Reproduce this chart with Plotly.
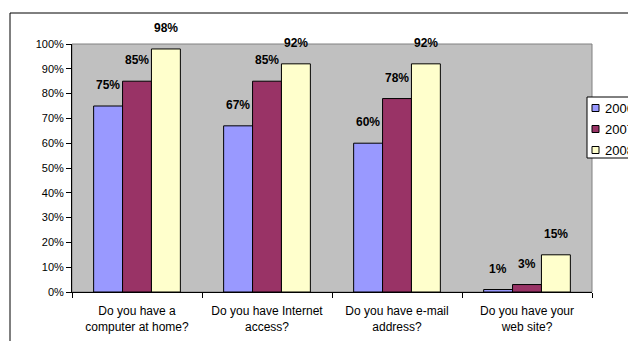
import plotly.graph_objects as go

# Survey questions (x categories, two-line labels)
questions = [
    "Do you have a<br>computer at home?",
    "Do you have Internet<br>access?",
    "Do you have e-mail<br>address?",
    "Do you have your<br>web site?",
]

# Share of "yes" answers per year
years = ["2006", "2007", "2008"]
share_2006 = [0.75, 0.67, 0.60, 0.01]
share_2007 = [0.85, 0.85, 0.78, 0.03]
share_2008 = [0.98, 0.92, 0.92, 0.15]
series = [share_2006, share_2007, share_2008]

colors = ["#9999FF", "#993366", "#FFFFCC"]

W, H = 628, 341
ML, MR, MT, MB = 72, 36, 44, 49
BARGAP = 0.333
plot_w = W - ML - MR
plot_h = H - MT - MB


def px_x(px):
    """Convert a page x pixel to paper coordinates."""
    return (px - ML) / plot_w


def px_y(py):
    """Convert a page y pixel (from top) to paper coordinates."""
    return (H - MB - py) / plot_h


fig = go.Figure()
for name, vals, col in zip(years, series, colors):
    fig.add_trace(go.Bar(
        x=questions, y=vals, name=name,
        marker=dict(color=col, line=dict(color="black", width=1)),
    ))

# Bold value labels above each bar
cat_w = plot_w / len(questions)
bar_w = cat_w * (1 - BARGAP) / len(series)
for i, vals in enumerate(series):
    offset = (i - (len(series) - 1) / 2) * bar_w
    for q, v in zip(questions, vals):
        fig.add_annotation(
            x=q, y=v, xref="x", yref="y",
            text=f"{round(v * 100)}%", showarrow=False,
            xanchor="center", yanchor="bottom",
            xshift=offset, yshift=12,
            font=dict(family="Liberation Sans, Arial", size=12, color="black", weight="bold"),
        )

# Gray plot-area frame (top and right edges)
fig.add_shape(type="rect", xref="paper", yref="paper", x0=0, y0=0, x1=1, y1=1,
              line=dict(color="#808080", width=1), layer="below")

# Outer chart frame running off the right and bottom edges
fig.add_shape(type="rect", xref="paper", yref="paper",
              x0=px_x(10), x1=px_x(W + 20), y0=px_y(H + 20), y1=px_y(13),
              line=dict(color="black", width=1))

# Legend box with small swatches, placed at the right edge of the chart
LEG_LEFT, LEG_TOP, LEG_BOTTOM = 587, 97, 158
ROW0, ROW_STEP = 108, 21
fig.add_shape(type="rect", xref="paper", yref="paper",
              x0=px_x(LEG_LEFT), x1=px_x(W + 20), y0=px_y(LEG_BOTTOM), y1=px_y(LEG_TOP),
              fillcolor="white", line=dict(color="black", width=1))
for k, (name, col) in enumerate(zip(years, colors)):
    cy = ROW0 + k * ROW_STEP
    fig.add_shape(type="rect", xref="paper", yref="paper",
                  x0=px_x(592), x1=px_x(599), y0=px_y(cy + 3.5), y1=px_y(cy - 3.5),
                  fillcolor=col, line=dict(color="black", width=1))
    fig.add_annotation(
        x=px_x(603), y=px_y(cy), xref="paper", yref="paper",
        text=name, showarrow=False, xanchor="left", yanchor="middle",
        font=dict(family="Liberation Sans, Arial", size=13, color="black"),
    )

fig.update_layout(
    width=W, height=H,
    margin=dict(l=ML, r=MR, t=MT, b=MB, autoexpand=False),
    paper_bgcolor="white",
    plot_bgcolor="#C0C0C0",
    barmode="group",
    bargap=BARGAP,
    bargroupgap=0,
    font=dict(family="Liberation Sans, Arial", color="black"),
    showlegend=False,
    xaxis=dict(
        type="category",
        showline=True, linecolor="black", linewidth=1,
        ticks="outside", tickson="boundaries", ticklen=5, tickcolor="black",
        tickfont=dict(size=12, color="black"),
        ticklabelstandoff=8,
        showgrid=False, zeroline=False,
    ),
    yaxis=dict(
        range=[0, 1], dtick=0.1, tickformat=".0%",
        showline=True, linecolor="black", linewidth=1,
        ticks="outside", ticklen=5, tickcolor="black",
        tickfont=dict(size=11, color="black"),
        showgrid=False, zeroline=False,
    ),
)

fig.write_html("out.html")
